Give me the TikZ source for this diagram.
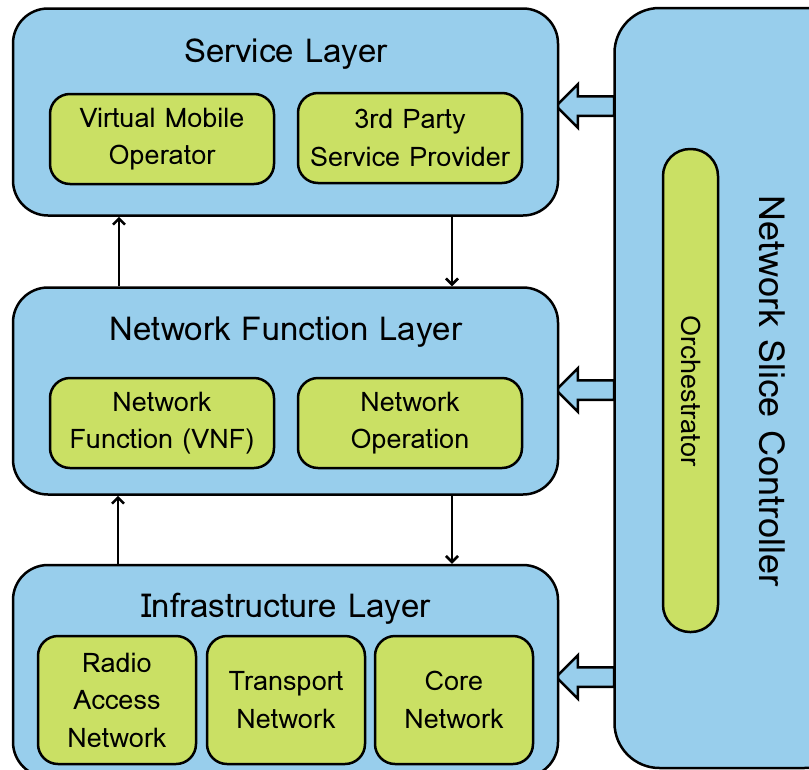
\documentclass[tikz,border=0pt]{standalone}
\usepackage{fontspec}
\setmainfont{Loma}
\usetikzlibrary{shapes.arrows,arrows.meta}

\definecolor{layerblue}{RGB}{152,206,236}
\definecolor{partgreen}{RGB}{202,224,100}

\tikzset{
	layer/.style={draw, fill=layerblue, line width=2.5pt, rounded corners=35pt, minimum width=545pt, minimum height=207pt},
	part/.style={draw, fill=partgreen, line width=2.5pt, rounded corners=20pt, align=center, font=\fontsize{27}{37.5}\selectfont},
	title/.style={font=\fontsize{33}{38}\selectfont},
	push/.style={draw, fill=layerblue, line width=2.5pt, single arrow, shape border rotate=180, single arrow head extend=12pt, single arrow head indent=0pt, minimum height=58pt, minimum width=41pt, inner xsep=0pt, inner ysep=8.5pt},
	flow/.style={line width=2.8pt, -{Straight Barb[length=6pt,width=12pt,line width=2.5pt]}}
}

\begin{document}
\begin{tikzpicture}[x=1pt,y=-1pt]
	\useasboundingbox (0,0) rectangle (809,769);

	\node[push] (pushsl) at (590,106) {};
	\node[push] (pushnfl) at (590,390) {};
	\node[push] (pushil) at (590,677) {};

	\node[layer, minimum width=235pt, minimum height=760pt, rounded corners=45pt] (nsc) at (732,388) {};
	\node[title, rotate=-90, font=\fontsize{36}{40}\selectfont] (nsctext) at (772,391) {Network Slice Controller};
	\node[part, rounded corners=27pt, minimum width=55pt, minimum height=483pt] (orch) at (690.5,390.5) {};
	\node[rotate=-90, font=\fontsize{27}{30}\selectfont] (orchtext) at (691,391) {Orchestrator};

	\node[layer] (sl) at (285.5,112) {};
	\node[title] (sltext) at (286,54) {Service Layer};
	\node[part, minimum width=224pt, minimum height=90pt] (vmo) at (162,139) {Virtual Mobile\\Operator};
	\node[part, minimum width=224pt, minimum height=90pt] (tpsp) at (410,138) {3rd Party\\Service Provider};

	\node[layer] (nfl) at (285.5,391) {};
	\node[title] (nfltext) at (286,332) {Network Function Layer};
	\node[part, minimum width=224pt, minimum height=90pt] (vnf) at (162,423) {Network\\Function (VNF)};
	\node[part, minimum width=224pt, minimum height=90pt] (nop) at (410,423) {Network\\Operation};

	\node[layer, minimum height=212pt] (il) at (285.5,671) {};
	\node[title] (iltext) at (286,609) {Infrastructure Layer};
	\node[part, minimum width=158pt, minimum height=128pt] (ran) at (117,700) {Radio\\Access\\Network};
	\node[part, minimum width=158pt, minimum height=128pt] (tn) at (286,700) {Transport\\Network};
	\node[part, minimum width=158pt, minimum height=128pt] (cn) at (454,700) {Core\\Network};

	\draw[flow] ([xshift=-166.5pt]nfl.north) -- ([xshift=-166.5pt]sl.south);
	\draw[flow] ([xshift=166.5pt]sl.south) -- ([xshift=166.5pt]nfl.north);
	\draw[flow] ([xshift=-167.5pt]il.north) -- ([xshift=-167.5pt]nfl.south);
	\draw[flow] ([xshift=166.5pt]nfl.south) -- ([xshift=166.5pt]il.north);
\end{tikzpicture}
\end{document}
